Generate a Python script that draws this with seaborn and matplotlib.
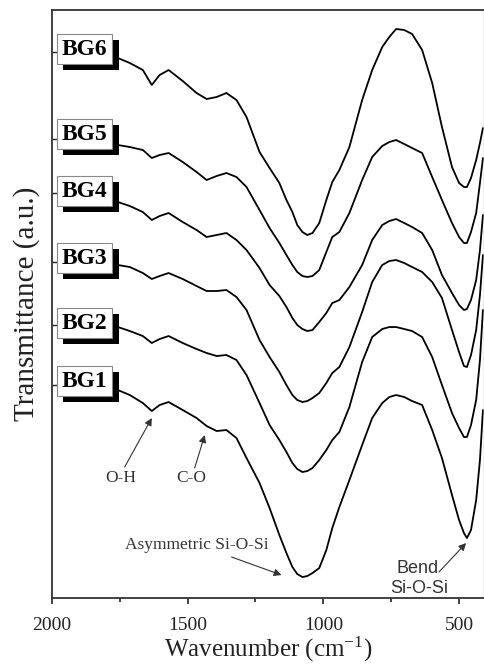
import matplotlib
matplotlib.use("Agg")
import matplotlib.pyplot as plt
import matplotlib.patheffects as pe
import pandas as pd
import seaborn as sns

# ---------------------------------------------------------------------------
# FTIR spectra of the six glasses (a.u.)
# ---------------------------------------------------------------------------
WAVENUMBER = [1757, 1713, 1665, 1632, 1603, 1570, 1518, 1467, 1430, 1393, 1357,
              1320, 1283, 1235, 1198, 1162, 1136, 1114, 1096, 1077, 1059, 1040,
              1015, 989, 967, 941, 904, 857, 820, 783, 757, 732, 702, 673, 636,
              599, 563, 526, 500, 482, 471, 456, 437, 423, 412]

BG6 = [5.40, 5.35, 5.28, 5.13, 5.23, 5.28, 5.17, 5.05, 4.99, 5.01, 5.05,
       4.98, 4.81, 4.46, 4.30, 4.15, 3.98, 3.86, 3.73, 3.66, 3.63, 3.65,
       3.75, 3.98, 4.16, 4.28, 4.51, 4.98, 5.28, 5.51, 5.61, 5.69, 5.68, 5.64, 5.48,
       5.15, 4.71, 4.31, 4.15, 4.11, 4.11, 4.20, 4.38, 4.55, 4.70]
BG5 = [4.53, 4.51, 4.48, 4.40, 4.43, 4.45, 4.36, 4.26, 4.18, 4.22, 4.25,
       4.21, 4.11, 3.88, 3.70, 3.55, 3.43, 3.33, 3.26, 3.22, 3.21, 3.22,
       3.28, 3.46, 3.61, 3.66, 3.85, 4.18, 4.41, 4.52, 4.56, 4.58, 4.54, 4.50, 4.45,
       4.21, 3.98, 3.75, 3.61, 3.55, 3.55, 3.66, 3.85, 4.15, 4.40]
BG4 = [3.96, 3.92, 3.86, 3.78, 3.82, 3.85, 3.76, 3.68, 3.61, 3.63, 3.65,
       3.58, 3.48, 3.30, 3.13, 3.02, 2.91, 2.80, 2.73, 2.69, 2.67, 2.68,
       2.76, 2.85, 2.95, 2.98, 3.11, 3.33, 3.58, 3.73, 3.77, 3.79, 3.75, 3.71, 3.65,
       3.48, 3.23, 3.05, 2.93, 2.88, 2.89, 2.98, 3.18, 3.48, 3.83]
BG3 = [3.33, 3.31, 3.25, 3.19, 3.22, 3.25, 3.19, 3.12, 3.07, 3.07, 3.08,
       3.01, 2.88, 2.58, 2.41, 2.26, 2.13, 2.03, 1.98, 1.96, 1.97, 2.00,
       2.05, 2.15, 2.25, 2.31, 2.51, 2.86, 3.16, 3.33, 3.37, 3.38, 3.35, 3.31, 3.26,
       3.16, 3.00, 2.68, 2.46, 2.32, 2.31, 2.43, 2.68, 3.03, 3.43]
BG2 = [2.71, 2.67, 2.62, 2.55, 2.59, 2.62, 2.55, 2.49, 2.45, 2.42, 2.43,
       2.38, 2.23, 1.95, 1.73, 1.58, 1.46, 1.35, 1.29, 1.26, 1.27, 1.30,
       1.38, 1.48, 1.58, 1.66, 1.91, 2.36, 2.61, 2.69, 2.71, 2.71, 2.69, 2.67, 2.61,
       2.41, 2.13, 1.85, 1.70, 1.61, 1.61, 1.73, 1.98, 2.38, 2.88]
BG1 = [2.08, 2.03, 1.95, 1.87, 1.93, 1.96, 1.88, 1.80, 1.72, 1.67, 1.68,
       1.60, 1.40, 1.15, 0.90, 0.63, 0.45, 0.31, 0.24, 0.21, 0.22, 0.25,
       0.30, 0.48, 0.70, 0.91, 1.18, 1.53, 1.80, 1.95, 2.01, 2.03, 2.01, 1.97, 1.93,
       1.68, 1.40, 1.03, 0.78, 0.65, 0.60, 0.68, 0.98, 1.38, 1.88]

SAMPLES = ["BG1", "BG2", "BG3", "BG4", "BG5", "BG6"]
SPECTRA = [BG1, BG2, BG3, BG4, BG5, BG6]

X_MAJOR = [2000, 1500, 1000, 500]
X_MINOR = [1750, 1250, 750]

# label boxes / left tick marks (a.u.)
LABEL_Y = [2.17, 2.75, 3.40, 4.07, 4.64, 5.49]
TICK_Y = [2.13, 2.73, 3.36, 4.05, 4.59, 5.46]

df = pd.DataFrame({
    "wavenumber": WAVENUMBER * len(SAMPLES),
    "transmittance": sum(SPECTRA, []),
    "sample": [s for s in SAMPLES for _ in WAVENUMBER],
})

sns.set_theme(style="ticks")
plt.rcParams["font.family"] = ["Liberation Serif", "DejaVu Serif"]
plt.rcParams["mathtext.default"] = "regular"

fig = plt.figure(figsize=(4.85, 6.67), dpi=100)
ax = fig.add_axes([0.107, 0.1034, 0.891, 0.8816])

for name in SAMPLES:
    sns.lineplot(data=df[df["sample"] == name], x="wavenumber", y="transmittance",
                 color="black", lw=1.3, sort=False, estimator=None, ax=ax,
                 legend=False, zorder=2, solid_joinstyle="round")

ax.set_xlim(2000, 408)
ax.set_ylim(0, 5.88)

ax.set_xticks(X_MAJOR)
ax.set_xticks(X_MINOR, minor=True)
ax.set_xticklabels([str(v) for v in X_MAJOR], fontsize=14)
ax.tick_params(axis="x", which="major", direction="out", length=4, width=1.2,
               pad=10, colors="#222")
ax.tick_params(axis="x", which="minor", direction="out", length=3, width=1.2,
               colors="#222")
ax.set_yticks(TICK_Y)
ax.set_yticklabels([])
ax.tick_params(axis="y", direction="in", length=4, width=1.0, colors="#222")

ax.set_xlabel("Wavenumber (cm$^{-1}$)", fontsize=18, labelpad=0, color="#222")
ax.set_ylabel("Transmittance (a.u.)", fontsize=21, labelpad=5, color="#222")

for side in ["left", "bottom", "top"]:
    ax.spines[side].set_color("#333")
    ax.spines[side].set_linewidth(1.3)
ax.spines["right"].set_color("#aaa")
ax.spines["right"].set_linewidth(1.0)

# boxed sample labels with a black drop shadow
for name, y in zip(SAMPLES, LABEL_Y):
    t = ax.text(1879, y, name, ha="center", va="center", fontsize=17,
                fontweight="bold", color="black", zorder=6,
                bbox=dict(boxstyle="square,pad=0.2", fc="white", ec="#888", lw=0.8))
    t.get_bbox_patch().set_path_effects([
        pe.SimplePatchShadow(offset=(4.5, -4.5), shadow_rgbFace="black", alpha=1.0),
        pe.Normal(),
    ])

# band assignments
arrow = dict(arrowstyle="-|>", color="#333", lw=0.8, mutation_scale=11,
             shrinkA=0, shrinkB=0)
ax.text(1746, 1.20, "O-H", ha="center", va="center", fontsize=12.5, color="#333")
ax.annotate("", xy=(1632, 1.80), xytext=(1732, 1.31), arrowprops=arrow)
ax.text(1485, 1.20, "C-O", ha="center", va="center", fontsize=12.5, color="#333")
ax.annotate("", xy=(1437, 1.63), xytext=(1474, 1.30), arrowprops=arrow)
ax.text(1467, 0.53, "Asymmetric Si-O-Si", ha="center", va="center",
        fontsize=12.5, color="#333")
ax.annotate("", xy=(1154, 0.23), xytext=(1338, 0.41), arrowprops=arrow)
ax.text(654, 0.30, "Bend", ha="center", va="center", fontsize=13,
        family="Liberation Sans", color="#333")
ax.text(647, 0.10, "Si-O-Si", ha="center", va="center", fontsize=13,
        family="Liberation Sans", color="#333")
ax.annotate("", xy=(474, 0.55), xytext=(574, 0.26), arrowprops=arrow)

fig.savefig("out.png", dpi=100, facecolor="white")
